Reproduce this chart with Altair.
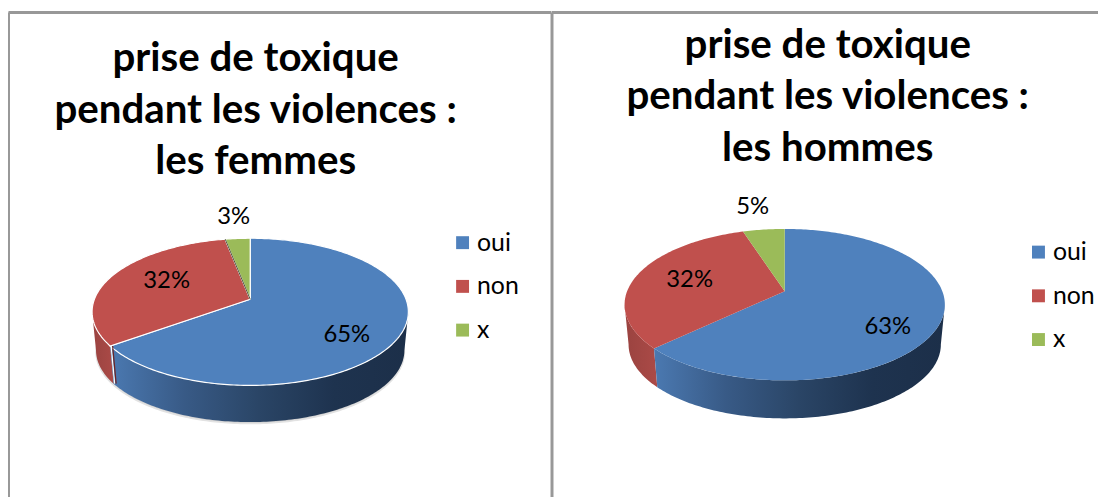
import math
import altair as alt
import pandas as pd

# ---- data
categories = ["oui", "non", "x"]
femmes = [65, 32, 3]
hommes = [63, 32, 5]
title_femmes = ["prise de toxique", "pendant les violences :", "les femmes"]
title_hommes = ["prise de toxique", "pendant les violences :", "les hommes"]
colors = ["#4F81BD", "#C0504D", "#9BBB59"]

FONT = "Lato"
BLUE_SIDE = ["#4b79b1", "#385a86", "#2a4566", "#1e334f", "#1c2f49"]
RED_SIDE = ["#9a4340", "#ab4a47"]
FRAME = "#989898"
TOP = 12
BOTTOM = 497
S = 1.0073  # the picture comes back slightly reduced; layout is compensated


def gradient(cols):
    n = len(cols) - 1
    return alt.LinearGradient(
        gradient="linear", x1=0, x2=1, y1=0, y2=0,
        stops=[alt.GradientStop(color=c, offset=i / n) for i, c in enumerate(cols)],
    )


def project(geo, deg):
    a = math.radians(deg)
    u, v = math.sin(a), math.cos(a)
    d = 1 + geo["k"] * v
    return geo["ax"] + geo["B"] * u / d, geo["ay"] - geo["A"] * v / d


def lower(geo, x, y):
    s = geo["shrink"]
    return geo["ax"] + (x - geo["ax"]) * s, geo["cy"] + geo["depth"] + (y - geo["cy"]) * s


def arc(geo, a0, a1):
    n = max(2, int(abs(a1 - a0)))
    return [project(geo, a0 + (a1 - a0) * i / n) for i in range(n + 1)]


def build(values, geo):
    tops, sides = [], []
    start = 0.0
    total = sum(values)
    f0 = math.degrees(math.acos(-geo["k"]))  # silhouette angles of the disc
    f1 = 360 - f0
    for cat, val in zip(categories, values):
        end = start + 360.0 * val / total
        pts = [(geo["ax"], geo["ay"])] + arc(geo, start, end) + [(geo["ax"], geo["ay"])]
        tops += [dict(cat=cat, x=x, y=y, i=i) for i, (x, y) in enumerate(pts)]
        a0, a1 = max(start, f0), min(end, f1)
        if a1 > a0:
            rim = arc(geo, a0, a1)
            band = rim + [lower(geo, x, y) for x, y in reversed(rim)] + rim[:1]
            sides += [dict(cat=cat, x=x, y=y, i=i) for i, (x, y) in enumerate(band)]
        start = end
    return pd.DataFrame(tops), pd.DataFrame(sides)


def panel(values, title, geo, xdom, legend_xy, title_dx, title_off, label_xy, detailed):
    tops, sides = build(values, geo)
    width = (xdom[1] - xdom[0]) * S
    height = (BOTTOM - TOP) * S
    xs = alt.Scale(domain=list(xdom), nice=False, zero=False)
    ys = alt.Scale(domain=[BOTTOM, TOP], nice=False, zero=False)
    X = alt.X("x:Q", scale=xs,
              axis=alt.Axis(domain=True, domainColor=FRAME, domainWidth=3, ticks=False, labels=False,
                            grid=False, title=None, orient="top"))
    Y = alt.Y("y:Q", scale=ys,
              axis=alt.Axis(domain=True, domainColor=FRAME, domainWidth=3, ticks=False, labels=False,
                            grid=False, title=None))
    layers = []
    if detailed:
        rim = arc(geo, 0, 360)
        sh = pd.DataFrame([dict(x=lower(geo, x, y)[0], y=lower(geo, x, y)[1] + 1.5, i=i)
                           for i, (x, y) in enumerate(rim)])
        layers.append(alt.Chart(sh).mark_line(filled=True, fill="#cfcfcf", stroke="#e2e2e2", strokeWidth=1.5)
                      .encode(x=X, y=Y, order="i:Q"))
    for cat, cols in (("non", RED_SIDE), ("oui", BLUE_SIDE)):
        layers.append(
            alt.Chart(sides[sides.cat == cat])
            .mark_line(filled=True, fill=gradient(cols), strokeWidth=0)
            .encode(x=X, y=Y, order="i:Q")
        )
    top_mark = dict(filled=True)
    if detailed:
        top_mark.update(stroke="white", strokeWidth=1.2)
    else:
        top_mark.update(strokeWidth=0)
    layers.append(
        alt.Chart(tops)
        .mark_line(**top_mark)
        .encode(
            x=X, y=Y, order="i:Q",
            color=alt.Color(
                "cat:N",
                scale=alt.Scale(domain=categories, range=colors),
                legend=alt.Legend(
                    title=None, orient="none", legendX=legend_xy[0], legendY=legend_xy[1],
                    symbolType="square", symbolSize=169, symbolStrokeWidth=0, labelFont=FONT,
                    labelFontSize=25, labelColor="#000000", rowPadding=18, labelOffset=2,
                ),
            ),
        )
    )
    if detailed:
        total = sum(values)
        b1 = 360.0 * values[0] / total
        b2 = 360.0 * (values[0] + values[1]) / total
        p1 = project(geo, b1)
        q1 = lower(geo, *p1)
        gap = pd.DataFrame([dict(x=p1[0] + 1, y=p1[1], i=0), dict(x=q1[0] + 1, y=q1[1], i=1)])
        layers.append(alt.Chart(gap).mark_line(color="#ffffff", strokeWidth=1.2)
                      .encode(x=X, y=Y, order="i:Q"))
        gap2 = gap.assign(x=gap.x + 1.5)
        layers.append(alt.Chart(gap2).mark_line(color="#6d2422", strokeWidth=1.2)
                      .encode(x=X, y=Y, order="i:Q"))
        p2 = project(geo, b2)
        sliver = pd.DataFrame([dict(x=geo["ax"], y=geo["ay"], i=0), dict(x=p2[0], y=p2[1], i=1)])
        layers.append(alt.Chart(sliver).mark_line(color="#4f5238", strokeWidth=1)
                      .encode(x=X, y=Y, order="i:Q"))
    lab = pd.DataFrame({
        "x": [p[0] for p in label_xy], "y": [p[1] for p in label_xy],
        "t": [f"{v}%" for v in values],
    })
    layers.append(
        alt.Chart(lab).mark_text(font=FONT, fontSize=24, color="#000000", align="center", baseline="middle")
        .encode(x=alt.X("x:Q", scale=xs), y=alt.Y("y:Q", scale=ys), text="t:N")
    )
    return alt.layer(*layers).properties(
        width=width, height=height,
        title=alt.TitleParams(
            text=title, font=FONT, fontSize=40.5, fontWeight="bold", color="#000000",
            anchor="middle", frame="group", dx=title_dx, offset=title_off, baseline="top",
            lineHeight=52,
        ),
    )


def geom(ax, ay, back, front, rx, depth_bottom):
    A = 2 / (1 / back + 1 / front)
    k = A / back - 1
    B = rx * math.sqrt(1 - k * k)
    cy = ay + (front - back) / 2
    ry = (front + back) / 2
    shrink = 0.975
    return dict(ax=ax, ay=ay, A=A, k=k, B=B, cy=cy, shrink=shrink,
                depth=depth_bottom - (cy + ry * shrink))


left = panel(
    femmes, title_femmes, geom(251.5, 299, 61, 86, 158, 421.7), (9.5, 552),
    (445, 219.6), -24, -172, [(348, 335), (168, 281), (235, 217)], True,
)
right = panel(
    hommes, title_hommes, geom(785, 291, 62.3, 89, 160, 418), (552, 1098),
    (477.6, 229.1), 3, -158.3, [(888, 327), (690, 280), (753, 207)], False,
)

chart = (
    alt.hconcat(left, right, spacing=0)
    .resolve_scale(color="independent")
    .properties(padding={"left": 0, "top": 2.5, "right": 0, "bottom": 0}, background="white")
    .configure_view(stroke=None)
)

chart.save("out.html", embed_options={"renderer": "svg", "actions": False})
